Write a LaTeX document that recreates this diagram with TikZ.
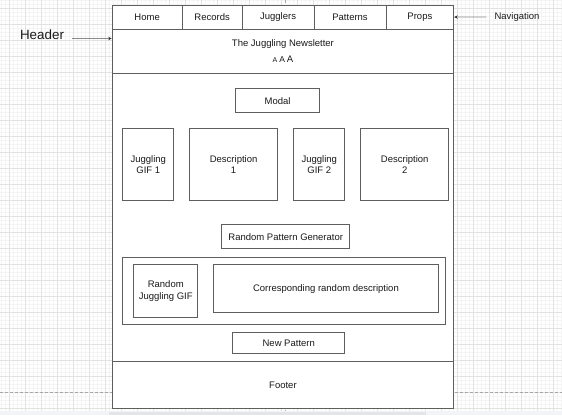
\documentclass[tikz,border=0pt]{standalone}
\usepackage{fontspec}
\setmainfont{Liberation Sans}
\usetikzlibrary{arrows.meta}
\definecolor{minorgrid}{HTML}{F4F4F4}
\definecolor{majorgrid}{HTML}{E2E2E2}
\definecolor{linegray}{HTML}{5E5E5E}
\definecolor{arrowgray}{HTML}{8A8A8A}
\definecolor{tipgray}{HTML}{333333}
\definecolor{textcol}{HTML}{1A1A1A}
\definecolor{barbg}{HTML}{F3F4F7}
\definecolor{barthumb}{HTML}{E4E5E8}
\newcommand{\wbox}[7][]{%
  \node[box,#1,minimum width={#5-#3},minimum height={#6-#4},anchor=north west] (#2) at (#3,#4) {#7};}
\begin{document}
\begin{tikzpicture}[x=1pt,y=-1pt,
  box/.style={draw=linegray,line width=0.9pt,fill=white,align=center,inner sep=0pt,
    text=textcol,font=\fontsize{9.5}{11.5}\selectfont},
  lbl/.style={inner sep=0pt,text=textcol,font=\fontsize{9.5}{11.5}\selectfont},
  arr/.style={draw=arrowgray,line width=0.7pt,-{Stealth[length=3.5pt,width=3.5pt,color=tipgray]}},
  pagebreak/.style={draw=black!35,line width=0.7pt,dash pattern=on 3pt off 2pt}]
\useasboundingbox (0,0) rectangle (562,415);
% background grid
\foreach \gx in {1.3,5.3,...,562} {\draw[minorgrid,line width=0.5pt] (\gx,0) -- (\gx,411);}
\foreach \gy in {0.3,4.3,...,411} {\draw[minorgrid,line width=0.5pt] (0,\gy) -- (562,\gy);}
\foreach \gx in {9.3,25.3,...,562} {\draw[majorgrid,line width=0.7pt] (\gx,0) -- (\gx,411);}
\foreach \gy in {8.3,24.3,...,411} {\draw[majorgrid,line width=0.7pt] (0,\gy) -- (562,\gy);}
\draw[pagebreak] (0,392.3) -- (562,392.3);
\draw[pagebreak] (285,0) -- (285,411);
\fill[barbg] (0,411) rectangle (562,415);
\fill[barthumb] (109,412) rectangle (426,415);
% page frame
\wbox{navhome}{111.7}{4.5}{181.7}{28.7}{\raisebox{-0.5pt}{Home}}
\wbox{navrecords}{181.7}{4.5}{241.6}{28.7}{\raisebox{-0.5pt}{Records}}
\wbox{navjugglers}{241.6}{4.5}{313.6}{28.7}{\raisebox{-0.5pt}{Jugglers}}
\wbox{navpatterns}{313.6}{4.5}{385.6}{28.7}{\raisebox{-0.5pt}{Patterns}}
\wbox{navprops}{385.6}{4.5}{453.3}{28.7}{\raisebox{-0.5pt}{Props}}
\wbox[font=\fontsize{9.5}{16}\selectfont]{header}{111.7}{28.7}{453.3}{72.5}{The Juggling Newsletter\\[0pt]{\fontsize{7}{7}\selectfont A}\hspace{2pt}{\fontsize{8.5}{8.5}\selectfont A}\hspace{2pt}{\fontsize{9.5}{9.5}\selectfont A}}
\wbox{body}{111.7}{72.5}{453.3}{360.7}{}
\wbox{footer}{111.7}{360.7}{453.3}{408.3}{Footer}
% content
\wbox{modal}{235}{88.3}{319.3}{112.3}{Modal}
\wbox{gifone}{122.3}{128.3}{173.3}{200}{Juggling\\GIF 1}
\wbox{descone}{189.3}{128.3}{277}{200}{Description\\1}
\wbox{giftwo}{293.3}{128.3}{344.3}{200}{Juggling\\GIF 2}
\wbox{desctwo}{360.3}{128.3}{448.3}{200}{Description\\2}
\wbox{rpg}{221.3}{224.3}{349.3}{248.3}{Random Pattern Generator}
\wbox{randcont}{122.3}{256.7}{445.3}{324.3}{}
\wbox{randgif}{133.3}{264.3}{197.3}{316.7}{Random\\Juggling GIF}
\wbox{randdesc}{213.3}{264.3}{437.7}{312.3}{Corresponding random description}
\wbox{newpat}{232.3}{332.3}{344.3}{352.7}{New Pattern}
% labels
\node[lbl,font=\fontsize{13.4}{15}\selectfont] (hdrlabel) at (42,35) {Header};
\node[lbl] (navlabel) at (517,17) {Navigation};
\coordinate (hdrtail) at (72,38.5);
\draw[arr] (hdrtail) -- (hdrtail -| header.west);
\draw[arr] ([xshift=-8pt]navlabel.west) -- (navprops.east);
\end{tikzpicture}
\end{document}
